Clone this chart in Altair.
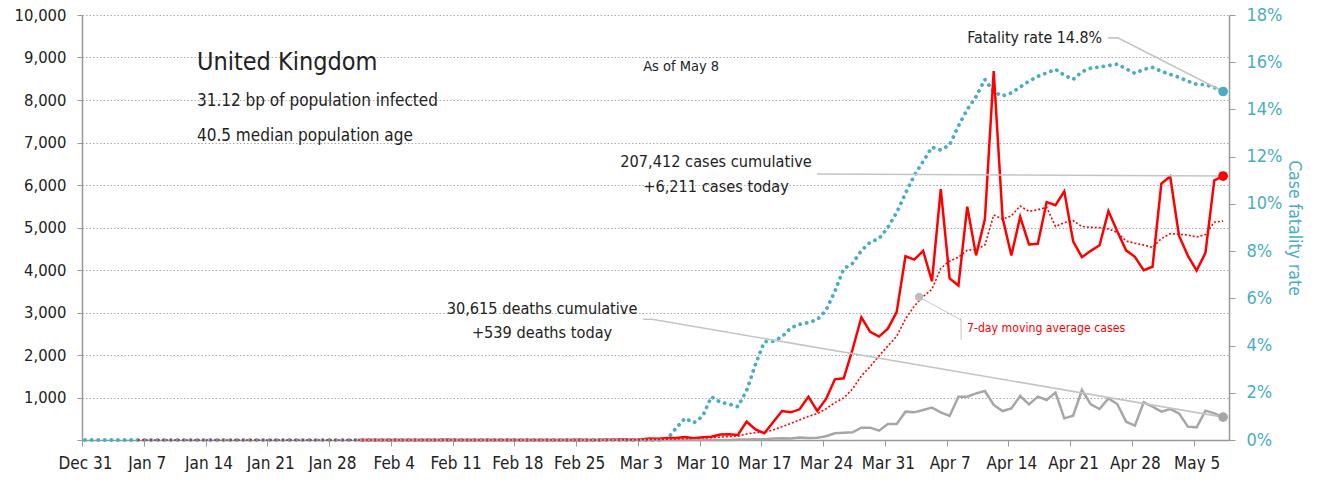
import altair as alt
import pandas as pd

# ---------------- data ----------------
# daily new cases (Dec 31 .. May 8); None = series not started yet
cases_dec_jan = [None] * 31                                   # Dec 31 - Jan 30
cases_feb = [2, 0, 0, 0, 0, 0, 1, 0, 0, 0, 4, 1, 0, 0, 0,
             0, 0, 0, 0, 0, 0, 0, 0, 0, 0, 4, 0, 2, 5, 3]     # Jan 31 - Feb 29
cases_mar = [12, 4, 11, 34, 29, 48, 45, 69, 43, 62, 77, 130, 134, 118, 431, 251,
             157, 420, 682, 651, 722, 1019, 682, 967, 1427, 1452, 2129, 2885,
             2546, 2433, 2619]
cases_apr = [3009, 4324, 4244, 4450, 3735, 5903, 3802, 3634, 5491, 4344, 5195,
             8681, 5233, 4342, 5252, 4603, 4617, 5599, 5525, 5850, 4676, 4301,
             4451, 4583, 5386, 4913, 4463, 4309, 3996, 4076]
cases_may = [6032, 6201, 4806, 4339, 3985, 4406, 6111, 6211]

# 7-day moving average of cases
ma_dec_jan = [None] * 6                                       # Dec 31 - Jan 5
ma_jan_feb = [0] * 55                                         # Jan 6 - Feb 29
ma_mar = [2, 3, 4, 9, 13, 20, 26, 35, 40, 47, 53, 68, 80, 90, 142, 172, 185,
          234, 313, 387, 473, 557, 619, 735, 879, 989, 1200, 1509, 1727, 1977,
          2213]
ma_apr = [2439, 2849, 3151, 3375, 3545, 4041, 4210, 4299, 4466, 4480, 4586,
          5293, 5197, 5274, 5505, 5379, 5418, 5475, 5024, 5113, 5160, 5024,
          5003, 4998, 4967, 4880, 4682, 4629, 4586, 4532]
ma_may = [4739, 4856, 4840, 4823, 4776, 4835, 5126, 5151]

# daily deaths
deaths_dec_jan = [None] * 31
deaths_feb = [0] * 30
deaths_mar = [0, 0, 0, 0, 1, 1, 0, 1, 1, 2, 1, 2, 1, 10, 14, 20, 16, 33, 40, 33,
              56, 48, 54, 87, 157, 173, 180, 290, 290, 220, 376]
deaths_apr = [376, 667, 651, 707, 761, 651, 565, 1020, 1020, 1098, 1153, 824,
              682, 745, 1035, 839, 1020, 941, 1114, 510, 573, 1176, 839, 729,
              980, 847, 431, 337, 886, 784]
deaths_may = [667, 729, 627, 314, 298, 690, 627, 539]

# case fatality rate, %
rate_dec_feb = [0] * 61
rate_mar = [0, 0, 0, 0, 0, 0.05, 0.5, 0.92, 0.73, 1.0, 1.83, 1.6, 1.52, 1.41,
            2.1, 3.2, 4.16, 4.18, 4.37, 4.75, 4.9, 4.97, 5.1, 5.5, 6.3, 7.25,
            7.48, 8.02, 8.38, 8.53, 9.0]
rate_apr = [9.63, 10.45, 11.2, 11.8, 12.4, 12.28, 12.5, 13.3, 14.0, 14.54,
            15.27, 14.75, 14.57, 14.7, 14.95, 15.2, 15.4, 15.55, 15.7, 15.45,
            15.27, 15.6, 15.75, 15.8, 15.86, 15.92, 15.72, 15.53, 15.7, 15.78]
rate_may = [15.62, 15.48, 15.36, 15.2, 15.06, 15.05, 14.93, 14.76]

cases = cases_dec_jan + cases_feb + cases_mar + cases_apr + cases_may
ma = ma_dec_jan + ma_jan_feb + ma_mar + ma_apr + ma_may
deaths = deaths_dec_jan + deaths_feb + deaths_mar + deaths_apr + deaths_may
rate = rate_dec_feb + rate_mar + rate_apr + rate_may

dates = pd.date_range("2019-12-31 08:00", periods=len(cases), freq="D")
df = pd.DataFrame({"date": dates, "cases": cases, "ma": ma,
                   "deaths": deaths, "rate": rate})

tick_dates = pd.date_range("2019-12-31", "2020-05-08", freq="7D")

# ---------------- styling ----------------
FONT = "DejaVu Sans Condensed, DejaVu Sans, sans-serif"
RED = "#ff0000"
TEAL = "#4bacc6"
GRAY = "#a6a6a6"
LEAD = "#c4c4c4"
INK = "#222222"
AXIS = "#999999"


def day(d):
    return pd.Timestamp("2019-12-31") + pd.Timedelta(days=d)


xscale = alt.Scale(domain=[alt.DateTime(year=2019, month=12, date=31),
                           alt.DateTime(year=2020, month=5, date=9)])
xaxis = alt.Axis(values=[alt.DateTime(year=t.year, month=t.month, date=t.day)
                         for t in tick_dates],
                 format="%b %-d", labelFont=FONT, labelFontSize=17,
                 labelColor=INK, labelFlush=False, labelOffset=3,
                 labelPadding=9, tickSize=6, tickColor=AXIS,
                 domainColor=AXIS, domainWidth=1.5, grid=False, title=None)
X = alt.X("date:T", scale=xscale, axis=xaxis)

left = alt.Scale(domain=[0, 10000])
right = alt.Scale(domain=[0, 18])

yaxis_left = alt.Axis(values=list(range(0, 10001, 1000)), format=",.0f",
                      labelExpr="datum.value == 0 ? '' : datum.label",
                      labelFont=FONT, labelFontSize=16.5, labelColor=INK,
                      labelPadding=11, tickSize=5, tickColor=AXIS,
                      domainColor=AXIS, domainWidth=1.5, grid=True,
                      gridDash=[1.5, 2], gridColor="#aaaaaa", gridWidth=1,
                      title=None)
yaxis_right = alt.Axis(orient="right", values=list(range(0, 19, 2)),
                       labelExpr="datum.value + '%'", labelFont=FONT,
                       labelFontSize=18, labelColor=TEAL, labelPadding=11,
                       tickSize=6, tickColor=AXIS, domainColor=AXIS,
                       domainWidth=1.5, grid=False, title="Case fatality rate",
                       titleColor=TEAL, titleFont=FONT, titleFontSize=17.5,
                       titleFontWeight="normal", titlePadding=3)

base = alt.Chart(df)

rate_line = base.mark_line(color=TEAL, strokeWidth=3.8, strokeDash=[0.1, 6.5],
                           strokeCap="round").encode(
    x=X, y=alt.Y("rate:Q", scale=right, axis=yaxis_right))
deaths_line = base.mark_line(color=GRAY, strokeWidth=2.5).encode(
    x=X, y=alt.Y("deaths:Q", scale=left, axis=None))
ma_line = base.mark_line(color=RED, strokeWidth=1.6, strokeDash=[2, 2]).encode(
    x=X, y=alt.Y("ma:Q", scale=left, axis=None))
cases_line = base.mark_line(color=RED, strokeWidth=2.5).encode(
    x=X, y=alt.Y("cases:Q", scale=left, axis=yaxis_left))

last = dates[-1]

# leader lines (left scale)
lead_df = pd.DataFrame([
    {"date": day(83.3), "v": 6259, "id": "c"},
    {"date": last, "v": cases[-1], "id": "c"},
    {"date": day(63.6), "v": 2840, "id": "d"},
    {"date": day(64.6), "v": 2840, "id": "d"},
    {"date": last, "v": deaths[-1], "id": "d"},
])
leads = alt.Chart(lead_df).mark_line(color=LEAD, strokeWidth=1.6).encode(
    x=X, y=alt.Y("v:Q", scale=left, axis=None), detail="id:N")

ma_lead_df = pd.DataFrame([
    {"date": day(94.87), "v": 3365, "id": "a"},
    {"date": day(99.63), "v": 2824, "id": "a"},
    {"date": day(99.63), "v": 2871, "id": "b"},
    {"date": day(99.64), "v": 2353, "id": "b"},
])
ma_lead = alt.Chart(ma_lead_df).mark_line(color=LEAD, strokeWidth=1).encode(
    x=X, y=alt.Y("v:Q", scale=left, axis=None), detail="id:N")

fat_lead_df = pd.DataFrame([
    {"date": day(116.3), "r": 17.03},
    {"date": day(117.4), "r": 17.03},
    {"date": last, "r": rate[-1]},
])
fat_lead = alt.Chart(fat_lead_df).mark_line(color=LEAD, strokeWidth=1.6).encode(
    x=X, y=alt.Y("r:Q", scale=right, axis=None))

# end dots
dot_red = alt.Chart(pd.DataFrame({"date": [last], "v": [cases[-1]]})).mark_circle(
    size=95, opacity=1, color=RED).encode(x=X, y=alt.Y("v:Q", scale=left, axis=None))
dot_gray = alt.Chart(pd.DataFrame({"date": [last], "v": [deaths[-1]]})).mark_circle(
    size=95, opacity=1, color=GRAY).encode(x=X, y=alt.Y("v:Q", scale=left, axis=None))
dot_teal = alt.Chart(pd.DataFrame({"date": [last], "r": [rate[-1]]})).mark_circle(
    size=95, opacity=1, color=TEAL).encode(x=X, y=alt.Y("r:Q", scale=right, axis=None))
dot_ma = alt.Chart(pd.DataFrame({"date": [day(94.87)], "v": [3365]})).mark_circle(
    size=70, opacity=1, color="#bdbdbd").encode(x=X, y=alt.Y("v:Q", scale=left, axis=None))


def texts(rows, size, align="left", color=INK):
    d = pd.DataFrame(rows, columns=["date", "v", "t"])
    return alt.Chart(d).mark_text(font=FONT, fontSize=size, align=align,
                                  baseline="middle", color=color).encode(
        x=X, y=alt.Y("v:Q", scale=left, axis=None), text="t:N")


t_title = texts([(day(13.03), 8894, "United Kingdom")], 25)
t_sub = texts([(day(13.03), 7976, "31.12 bp of population infected"),
               (day(13.03), 7153, "40.5 median population age")], 17)
t_asof = texts([(day(63.6), 8776, "As of May 8")], 14.5)
t_fat = texts([(day(115.6), 9459, "Fatality rate 14.8%")], 15.8, align="right")
t_cases = texts([(day(71.86), 6541, "207,412 cases cumulative"),
                 (day(71.86), 5953, "+6,211 cases today")], 16.2, align="center")
t_deaths = texts([(day(52.14), 3082, "30,615 deaths cumulative"),
                  (day(52.14), 2518, "+539 deaths today")], 16.2, align="center")
t_ma = texts([(day(100.3), 2635, "7-day moving average cases")], 12.2, color=RED)

chart = alt.layer(
    rate_line, cases_line, deaths_line, ma_line,
    leads, ma_lead, fat_lead,
    dot_ma, dot_gray, dot_red, dot_teal,
    t_title, t_sub, t_asof, t_fat, t_cases, t_deaths, t_ma,
).resolve_scale(y="independent").properties(
    width=1147, height=425,
    autosize=alt.AutoSizeParams(type="none"),
    padding={"left": 74, "top": 7, "right": 78, "bottom": 32},
    background="white",
).configure_view(strokeWidth=0)

chart.save("out.html", embed_options={"renderer": "svg", "actions": False})
